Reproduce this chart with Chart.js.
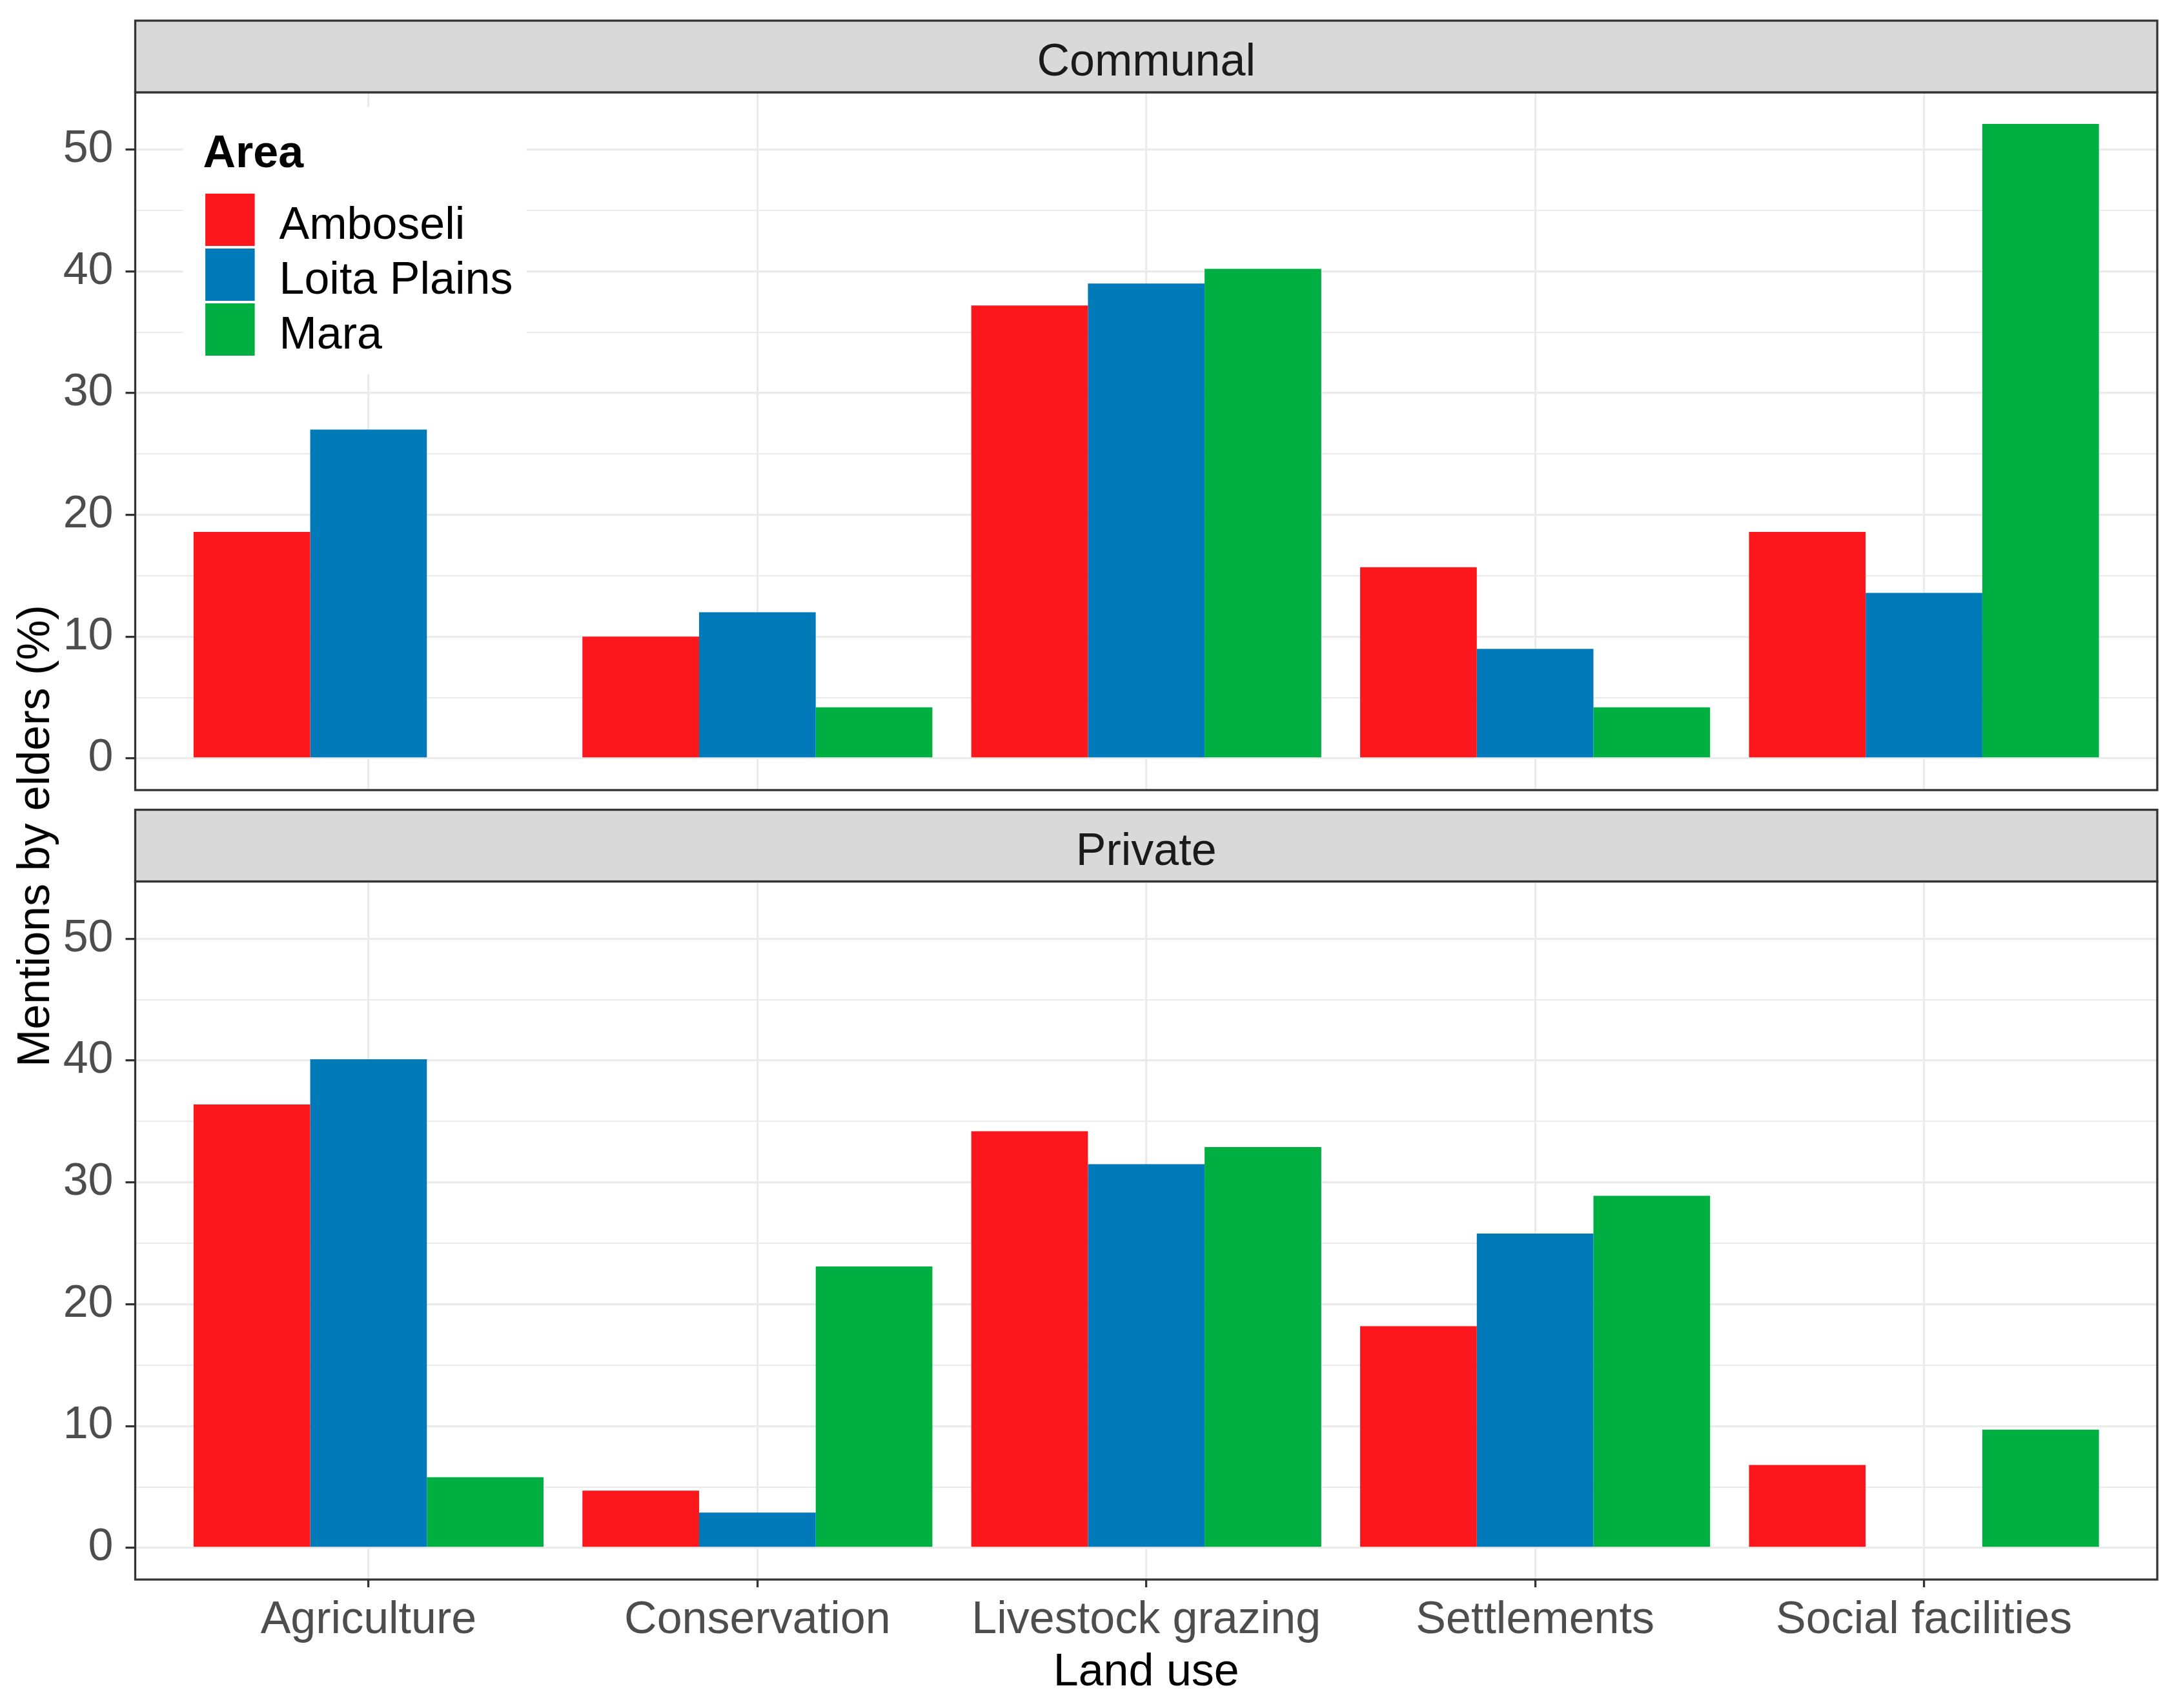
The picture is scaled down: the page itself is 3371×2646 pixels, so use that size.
<!DOCTYPE html>
<html>
<head>
<meta charset="utf-8">
<script src="https://cdn.jsdelivr.net/npm/chart.js@4/dist/chart.umd.min.js"></script>
<style>
  html, body { margin: 0; padding: 0; background: #ffffff; }
  body { width: 3371px; height: 2646px; position: relative; overflow: hidden; }
  canvas { position: absolute; left: 0; }
  #ytitle {
    position: absolute; left: 52px; top: 1295px;
    transform: translate(-50%, -50%) rotate(-90deg);
    font-family: "Liberation Sans", Arial, sans-serif; font-size: 70px; line-height: 70px;
    color: #000000; white-space: nowrap;
  }
</style>
</head>
<body>
<canvas id="c1" width="3371" height="1240" style="top:0px;width:3371px;height:1240px"></canvas>
<canvas id="c2" width="3371" height="1406" style="top:1240px;width:3371px;height:1406px"></canvas>
<div id="ytitle">Mentions by elders (%)</div>
<script>
// ---------- DATA ----------
const categories = ["Agriculture", "Conservation", "Livestock grazing", "Settlements", "Social facilities"];
const areas = ["Amboseli", "Loita Plains", "Mara"];
const facets = ["Communal", "Private"];

const communalAmboseli = [18.6, 10.0, 37.2, 15.7, 18.6];
const communalLoita    = [27.0, 12.0, 39.0,  9.0, 13.6];
const communalMara     = [ 0.0,  4.2, 40.2,  4.2, 52.1];

const privateAmboseli  = [36.4,  4.7, 34.2, 18.2,  6.8];
const privateLoita     = [40.1,  2.9, 31.5, 25.8,  0.0];
const privateMara      = [ 5.8, 23.1, 32.9, 28.9,  9.7];

const yTicks = [0, 10, 20, 30, 40, 50];
const yMinorTicks = [5, 15, 25, 35, 45];

// ---------- STYLE ----------
const FONT = '"Liberation Sans", Arial, sans-serif';
const colors = ["#FC171C", "#007AB8", "#00AF41"];
const GRID = "#EBEBEB";
const DARK = "#333333";
Chart.defaults.font.family = FONT;
Chart.defaults.font.size = 70;

function makeDatasets(series) {
  return series.map((vals, k) => ({
    label: areas[k],
    data: vals.map((v, i) => ({ x: i + 1, y: v })),
    backgroundColor: colors[k],
    borderWidth: 0,
    categoryPercentage: 0.9,
    barPercentage: 1.0
  }));
}

const facetPlugin = {
  id: 'facet',
  afterDraw(chart, args, opts) {
    const { ctx, chartArea: a } = chart;
    const w = a.right - a.left;
    ctx.save();
    // legend
    if (opts.legend) {
      const bx = a.left + 74, by = a.top + 23;
      ctx.fillStyle = '#ffffff';
      ctx.fillRect(bx, by, 532, 414);
      ctx.fillStyle = '#000000';
      ctx.font = 'bold 70px ' + FONT;
      ctx.textAlign = 'left';
      ctx.textBaseline = 'alphabetic';
      ctx.fillText('Area', bx + 31, by + 93);
      ctx.font = '70px ' + FONT;
      chart.data.datasets.forEach((ds, k) => {
        const ky = by + 134 + k * 85;
        ctx.fillStyle = ds.backgroundColor;
        ctx.fillRect(bx + 34.6, ky, 76.5, 81);
        ctx.fillStyle = '#000000';
        ctx.fillText(ds.label, bx + 149, ky + 40.5 + 29);
      });
    }
    // panel border
    ctx.strokeStyle = DARK;
    ctx.lineWidth = 3.3;
    ctx.strokeRect(a.left, a.top, w, a.bottom - a.top);
    // strip
    const sh = 111;
    ctx.fillStyle = '#D9D9D9';
    ctx.fillRect(a.left, a.top - sh, w, sh);
    ctx.strokeRect(a.left, a.top - sh, w, sh);
    ctx.fillStyle = '#1A1A1A';
    ctx.font = '70px ' + FONT;
    ctx.textAlign = 'center';
    ctx.textBaseline = 'alphabetic';
    ctx.fillText(opts.title, a.left + w / 2, a.top - sh + 85);
    ctx.restore();
  }
};

function makeChart(id, series, title, bottom) {
  const allY = yTicks.concat(yMinorTicks).sort((p, q) => p - q);
  return new Chart(document.getElementById(id), {
    type: 'bar',
    data: { datasets: makeDatasets(series) },
    plugins: [facetPlugin],
    options: {
      responsive: false,
      devicePixelRatio: 1,
      animation: false,
      events: [],
      layout: { padding: bottom ? { top: 125.5, right: 29, bottom: 0, left: 0 }
                               : { top: 143, right: 29, bottom: 16, left: 0 } },
      plugins: {
        legend: { display: false },
        tooltip: { enabled: false },
        facet: { title: title, legend: !bottom }
      },
      scales: {
        x: {
          type: 'linear',
          min: 0.4, max: 5.6,
          offset: false,
          afterBuildTicks: (s) => { s.ticks = categories.map((c, i) => ({ value: i + 1 })); },
          afterFit: (s) => { s.height = bottom ? 199 : 0; s.paddingLeft = 0; s.paddingRight = 0; },
          border: { display: false },
          grid: {
            offset: false, color: GRID, lineWidth: 3.2,
            drawTicks: bottom, tickLength: 12, tickColor: DARK, tickWidth: 3.3
          },
          ticks: {
            display: bottom, color: '#4D4D4D', padding: 10, maxRotation: 0, autoSkip: false,
            font: { size: 70 },
            callback: (v) => categories[Math.round(v) - 1]
          },
          title: {
            display: bottom, text: 'Land use', color: '#000000',
            font: { size: 70 }, padding: { top: 0, bottom: 12 }
          }
        },
        y: {
          type: 'linear',
          min: -2.6, max: 54.7,
          afterBuildTicks: (s) => { s.ticks = allY.map(v => ({ value: v })); },
          afterFit: (s) => { s.width = 209.5; s.paddingTop = 0; s.paddingBottom = 0; },
          border: { display: false },
          grid: {
            color: GRID,
            lineWidth: (c) => (c.tick && c.tick.value % 10 === 0) ? 3.2 : 2.0,
            tickLength: 15,
            tickWidth: 3.3,
            tickColor: (c) => (c.tick && c.tick.value % 10 === 0) ? DARK : 'rgba(0,0,0,0)'
          },
          ticks: {
            color: '#4D4D4D', padding: 19, font: { size: 70 },
            callback: (v) => (v % 10 === 0 ? String(v) : '')
          }
        }
      }
    }
  });
}

makeChart('c1', [communalAmboseli, communalLoita, communalMara], facets[0], false);
makeChart('c2', [privateAmboseli, privateLoita, privateMara], facets[1], true);
</script>
</body>
</html>
